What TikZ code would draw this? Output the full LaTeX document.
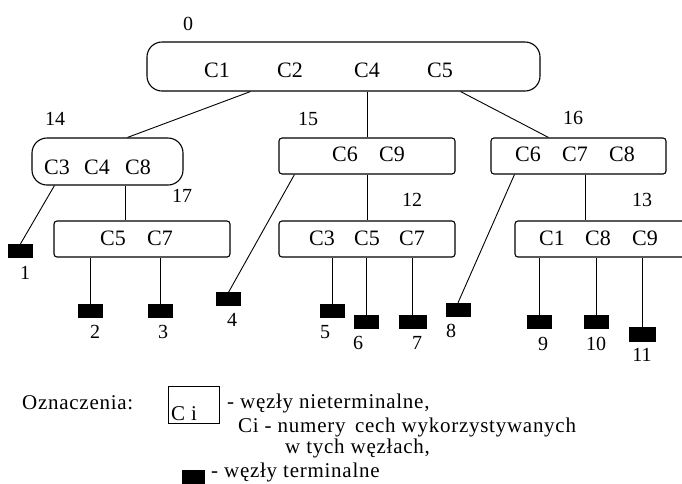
\documentclass[tikz,border=0pt]{standalone}
\usepackage{fontspec}
\setmainfont{Liberation Serif}
\newfontfamily\legfont[LetterSpace=3.5]{Liberation Serif}
\usetikzlibrary{calc}
\begin{document}
\begin{tikzpicture}[x=1pt,y=-1pt,
  every node/.style={font=\fontsize{22}{24}\selectfont, inner sep=0pt},
  bigbox/.style={draw, line width=1.1pt, rounded corners=15pt},
  smallbox/.style={draw, line width=1.1pt, rounded corners=3pt},
  term/.style={fill=black, draw=black, minimum width=24pt, minimum height=13pt},
  conn/.style={line width=0.9pt},
  lbl/.style={font=\fontsize{20}{22}\selectfont},
  legend/.style={anchor=west, font=\fontsize{21}{23}\legfont}]
\useasboundingbox (0,0) rectangle (682,483);

% internal nodes
\node[bigbox, minimum width=393pt, minimum height=49pt] (root) at (343.5,66.5) {};
\node[bigbox, minimum width=151pt, minimum height=47pt] (n14) at (107.5,161.5) {};
\node[smallbox, minimum width=176pt, minimum height=36pt] (n15) at (367,156) {};
\node[smallbox, minimum width=175pt, minimum height=36pt] (n16) at (578.5,156) {};
\node[smallbox, minimum width=176pt, minimum height=36pt] (n17) at (142,239) {};
\node[smallbox, minimum width=176pt, minimum height=36pt] (n12) at (367,239) {};
\node[smallbox, minimum width=180pt, minimum height=36pt] (n13) at (605,239) {};

% texts in boxes
\node (r1) at (217,70) {C1};
\node (r2) at (290,70) {C2};
\node (r4) at (367,70) {C4};
\node (r5) at (440,70) {C5};
\node (a3) at (57,167) {C3};
\node (a4) at (97,167) {C4};
\node (a8) at (138,167) {C8};
\node (b6) at (345,154) {C6};
\node (b9) at (392,154) {C9};
\node (c6) at (528,154) {C6};
\node (c7) at (575,154) {C7};
\node (c8) at (622,154) {C8};
\node (d5) at (113,238) {C5};
\node (d7) at (160,238) {C7};
\node (e3) at (322,238) {C3};
\node (e5) at (367,238) {C5};
\node (e7) at (412,238) {C7};
\node (f1) at (552,238) {C1};
\node (f8) at (598,238) {C8};
\node (f9) at (645,238) {C9};

% labels of internal nodes
\node[lbl] (l0) at (188,24) {0};
\node[lbl] (l14) at (55,119) {14};
\node[lbl] (l15) at (308,119) {15};
\node[lbl] (l16) at (573,118) {16};
\node[lbl] (l17) at (182,196) {17};
\node[lbl] (l12) at (412,200) {12};
\node[lbl] (l13) at (642,200) {13};

% terminals
\node[term] (t1) at (20.5,250.5) {};
\node[term] (t2) at (90.5,310.5) {};
\node[term] (t3) at (160,310.5) {};
\node[term] (t4) at (228.5,299) {};
\node[term] (t5) at (332,310.5) {};
\node[term] (t6) at (366.5,321.5) {};
\node[term, minimum width=27pt] (t7) at (412.5,321.5) {};
\node[term] (t8) at (458,309.5) {};
\node[term] (t9) at (539,321.5) {};
\node[term] (t10) at (596,321.5) {};
\node[term, minimum width=26pt, minimum height=14pt] (t11) at (642,334) {};

% terminal labels
\node[lbl] (k1) at (25,273) {1};
\node[lbl] (k2) at (95,332) {2};
\node[lbl] (k3) at (163,332) {3};
\node[lbl] (k4) at (232,320) {4};
\node[lbl] (k5) at (325,332) {5};
\node[lbl] (k6) at (358,343) {6};
\node[lbl] (k7) at (417,343) {7};
\node[lbl] (k8) at (451,331) {8};
\node[lbl] (k9) at (543,344) {9};
\node[lbl] (k10) at (596,344) {10};
\node[lbl] (k11) at (642,355) {11};

% connectors
\draw[conn] ([xshift=104pt]root.south west) -- ([xshift=96pt]n14.north west);
\draw[conn] (root.south -| n15.north) -- (n15.north);
\draw[conn] ([xshift=-80pt]root.south east) -- ([xshift=58pt]n16.north west);
\draw[conn] (n14.south -| n17.north) ++(-17pt,0) coordinate (s14) (s14) -- (s14 |- n17.north);
\draw[conn] ([xshift=23pt]n14.south west) -- (t1.north);
\draw[conn] (n17.south -| t2) -- (t2.north);
\draw[conn] (n17.south -| t3) -- (t3.north);
\draw[conn] ([xshift=16pt]n15.south west) -- (t4.north);
\draw[conn] (n15.south) -- (n12.north);
\draw[conn] (n12.south -| t5) -- (t5.north);
\draw[conn] (n12.south -| t6) -- (t6.north);
\draw[conn] (n12.south -| t7) -- (t7.north);
\draw[conn] ([xshift=24pt]n16.south west) -- (t8.north);
\draw[conn] (n16.south -| 585,0) -- (n13.north -| 585,0);
\draw[conn] (n13.south -| t9) -- (t9.north);
\draw[conn] (n13.south -| t10) -- (t10.north);
\draw[conn] (n13.south -| t11) -- (t11.north);

% legend
\node[legend] (oz) at (22,403) {Oznaczenia:};
\node[draw, line width=0.9pt, minimum width=51pt, minimum height=37pt] (lb) at (193.5,404.5) {};
\node[anchor=base west, font=\fontsize{21}{23}\legfont] (ci) at (171,420) {C i};
\node[legend] (g1) at (227,403) {- węzły nieterminalne,};
\node[legend] (g2) at (238,427) {Ci - numery\, cech wykorzystywanych};
\node[legend] (g3) at (285,448) {w tych węzłach,};
\node[fill=black, minimum width=23pt, minimum height=14pt] (lt) at (193.5,477) {};
\node[legend] (g4) at (211,472) {- węzły terminalne};
\end{tikzpicture}
\end{document}
